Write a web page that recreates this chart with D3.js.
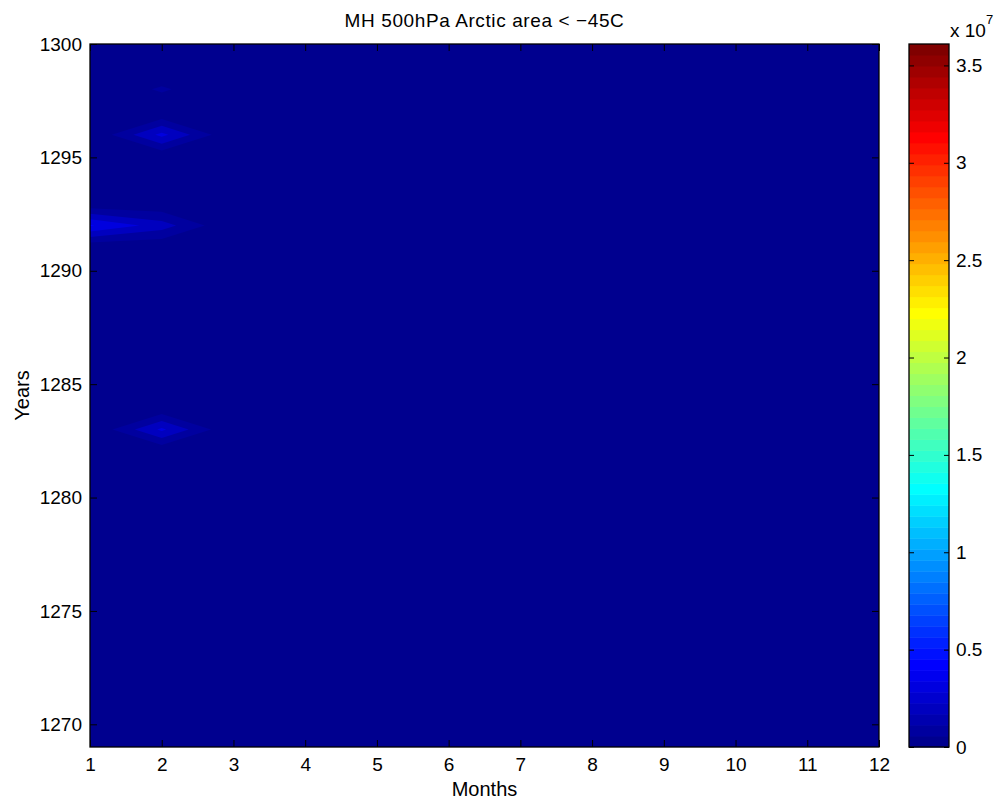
<!DOCTYPE html>
<html>
<head>
<meta charset="utf-8">
<script src="https://cdn.jsdelivr.net/npm/d3@7"></script>
<style>
  html, body { margin: 0; padding: 0; background: #fff; }
  svg { display: block; font-family: "Liberation Sans", Arial, sans-serif; }
</style>
</head>
<body>
<svg id="chart" width="1000" height="803"></svg>
<script>
// ---- data ----
const months = [1, 2, 3, 4, 5, 6, 7, 8, 9, 10, 11, 12];
const years = d3.range(1269, 1301); // 1269 .. 1300
// non-zero cells (all others are 0)
const peakMonths = [2, 2, 1, 2, 2];
const peakYears  = [1298, 1296, 1292, 1292, 1283];
const peakValues = [1.16e6, 3.3e6, 4.1e6, 2.5e6, 3.2e6];
const colorMax = 3.61e7;
const contourLevels = [1e6, 2e6, 3e6, 4e6, 5e6];
const xTicks = months;
const yTicks = [1270, 1275, 1280, 1285, 1290, 1295, 1300];
const cbTicks = [0, 0.5e7, 1e7, 1.5e7, 2e7, 2.5e7, 3e7, 3.5e7];
const cbTickLabels = ["0", "0.5", "1", "1.5", "2", "2.5", "3", "3.5"];

(function () {
// ---- grid ----
const nx = months.length, ny = years.length;
const grid = new Array(nx * ny).fill(0);
peakMonths.forEach((m, k) => {
  const i = months.indexOf(m), j = years.indexOf(peakYears[k]);
  grid[j * nx + i] = peakValues[k];
});

// ---- jet(64) colormap ----
function jet(n) {
  const c = v => Math.max(0, Math.min(1, v));
  return d3.range(n).map(i => {
    const xx = (i + 1) / n;
    const r = c(Math.min(4 * xx - 1.5, -4 * xx + 4.5));
    const g = c(Math.min(4 * xx - 0.5, -4 * xx + 3.5));
    const b = c(Math.min(4 * xx + 0.5, -4 * xx + 2.5));
    return d3.rgb(r * 255, g * 255, b * 255).formatHex();
  });
}
const jetColors = jet(64);
const color = d3.scaleQuantize().domain([0, colorMax]).range(jetColors);

// ---- layout ----
const L = 90, R = 879, T = 44, B = 747;
const x = d3.scaleLinear().domain([1, 12]).range([L, R]);
const y = d3.scaleLinear().domain([1269, 1300]).range([B, T]);

const svg = d3.select("#chart");
svg.append("defs").append("clipPath").attr("id", "plotclip")
  .append("rect").attr("x", L).attr("y", T).attr("width", R - L).attr("height", B - T);

const plot = svg.append("g").attr("clip-path", "url(#plotclip)");
plot.append("rect").attr("x", L).attr("y", T).attr("width", R - L).attr("height", B - T)
  .attr("fill", color(0));

const contours = d3.contours().size([nx, ny]).thresholds(contourLevels)(grid);
const proj = d3.geoTransform({
  point(px, py) {
    this.stream.point(x(months[0] + px - 0.5), y(years[0] + py - 0.5));
  }
});
const path = d3.geoPath(proj);
plot.selectAll("path.band").data(contours).join("path")
  .attr("class", "band")
  .attr("d", path)
  .attr("fill", d => color(d.value))
  .attr("stroke", "none");

// ---- axes ----
const fontSize = 19;
const ax = svg.append("g");
ax.append("g").attr("transform", `translate(0,${B})`)
  .call(d3.axisBottom(x).tickValues(xTicks).tickSize(-7).tickPadding(11).tickFormat(d3.format("d")));
ax.append("g").attr("transform", `translate(0,${T})`)
  .call(d3.axisTop(x).tickValues(xTicks).tickSize(-7).tickFormat(""));
ax.append("g").attr("transform", `translate(${L},0)`)
  .call(d3.axisLeft(y).tickValues(yTicks).tickSize(-7).tickPadding(8).tickFormat(d3.format("d")));
ax.append("g").attr("transform", `translate(${R},0)`)
  .call(d3.axisRight(y).tickValues(yTicks).tickSize(-7).tickFormat(""));
ax.selectAll(".domain").remove();
ax.selectAll(".tick line").attr("stroke", "#000").attr("stroke-width", 1);
ax.selectAll(".tick text").attr("fill", "#000").style("font-size", fontSize + "px")
  .style("font-family", '"Liberation Sans", Arial, sans-serif');
svg.append("rect").attr("x", L).attr("y", T).attr("width", R - L).attr("height", B - T)
  .attr("fill", "none").attr("stroke", "#000").attr("stroke-width", 1.3);

// ---- labels ----
svg.append("text").attr("x", (L + R) / 2).attr("y", 27).attr("text-anchor", "middle")
  .style("font-size", "19px").style("letter-spacing", "0.6px")
  .text("MH 500hPa Arctic area < \u221245C");
svg.append("text").attr("x", (L + R) / 2).attr("y", 796).attr("text-anchor", "middle")
  .style("font-size", "20px").text("Months");
svg.append("text").attr("transform", `translate(29,${(T + B) / 2}) rotate(-90)`)
  .attr("text-anchor", "middle").style("font-size", "20px").text("Years");

// ---- colorbar ----
const CL = 909, CR = 949;
const cy = d3.scaleLinear().domain([0, colorMax]).range([B, T]);
const cb = svg.append("g");
const step = colorMax / jetColors.length;
cb.selectAll("rect.cbin").data(jetColors).join("rect")
  .attr("class", "cbin")
  .attr("x", CL).attr("width", CR - CL)
  .attr("y", (d, i) => cy((i + 1) * step))
  .attr("height", (d, i) => cy(i * step) - cy((i + 1) * step) + 0.5)
  .attr("fill", d => d);
cb.append("g").attr("transform", `translate(${CR},0)`)
  .call(d3.axisRight(cy).tickValues(cbTicks).tickSize(-5).tickPadding(7)
    .tickFormat((d, i) => cbTickLabels[i]));
cb.append("g").attr("transform", `translate(${CL},0)`)
  .call(d3.axisLeft(cy).tickValues(cbTicks).tickSize(-5).tickFormat(""));
cb.selectAll(".domain").remove();
cb.selectAll(".tick line").attr("stroke", "#000");
cb.selectAll(".tick text").attr("fill", "#000").style("font-size", fontSize + "px")
  .style("font-family", '"Liberation Sans", Arial, sans-serif');
cb.append("rect").attr("x", CL).attr("y", T).attr("width", CR - CL).attr("height", B - T)
  .attr("fill", "none").attr("stroke", "#000").attr("stroke-width", 1.3);
const ex = svg.append("text").attr("x", 950).attr("y", 37).style("font-size", fontSize + "px");
ex.append("tspan").text("x 10");
ex.append("tspan").attr("dy", -13).style("font-size", "13px").text("7");
})();
</script>
</body>
</html>
